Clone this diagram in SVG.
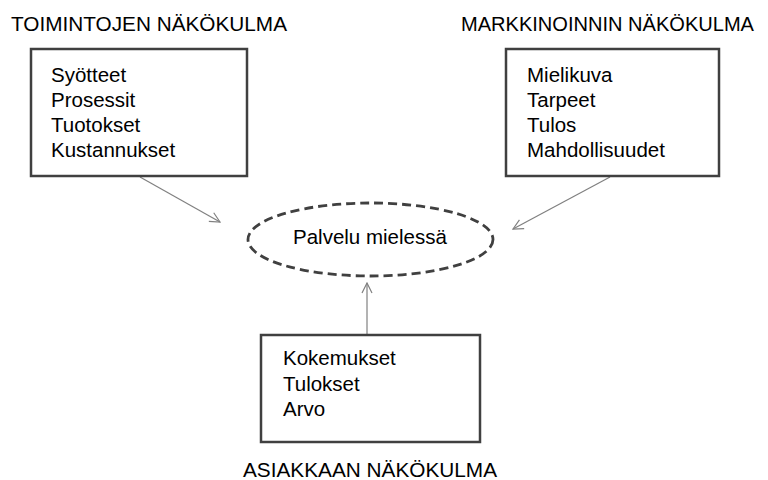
<svg xmlns="http://www.w3.org/2000/svg" width="768" height="480" viewBox="0 0 768 480">
  <style>
    .title { font-family: "Liberation Sans", Arial, sans-serif; font-size: 21px; fill: #000; }
    .item { font-family: "Liberation Sans", Arial, sans-serif; font-size: 20.5px; fill: #000; }
    .box { fill: #fff; stroke: #404040; stroke-width: 2.5; }
    .oval { fill: none; stroke: #404040; stroke-width: 2.8; stroke-dasharray: 9 5; }
    .link { fill: none; stroke: #808080; stroke-width: 1.2; marker-end: url(#open); }
  </style>
  <defs>
    <marker id="open" viewBox="0 0 12 12" refX="11" refY="6" markerWidth="12" markerHeight="12" markerUnits="userSpaceOnUse" orient="auto">
      <path d="M1,1 L11,6 L1,11" fill="none" stroke="#808080" stroke-width="1.2"/>
    </marker>
  </defs>
  <rect width="768" height="480" fill="#fff"/>

  <g id="connectors">
    <line class="link" x1="140" y1="177" x2="220" y2="222"/>
    <line class="link" x1="610" y1="177" x2="513" y2="229"/>
    <line class="link" x1="367" y1="335" x2="367" y2="283"/>
  </g>

  <g id="toiminnot">
    <text class="title" x="11" y="31" textLength="276" lengthAdjust="spacingAndGlyphs">TOIMINTOJEN NÄKÖKULMA</text>
    <rect class="box" x="31" y="49" width="216" height="127"/>
    <text class="item" x="51" y="82">Syötteet</text>
    <text class="item" x="51" y="107">Prosessit</text>
    <text class="item" x="51" y="132">Tuotokset</text>
    <text class="item" x="51" y="157">Kustannukset</text>
  </g>

  <g id="markkinointi">
    <text class="title" x="461" y="31" textLength="293" lengthAdjust="spacingAndGlyphs">MARKKINOINNIN NÄKÖKULMA</text>
    <rect class="box" x="506" y="49" width="213" height="127"/>
    <text class="item" x="527" y="82">Mielikuva</text>
    <text class="item" x="527" y="107">Tarpeet</text>
    <text class="item" x="527" y="132">Tulos</text>
    <text class="item" x="527" y="157">Mahdollisuudet</text>
  </g>

  <g id="palvelu">
    <ellipse class="oval" cx="370.5" cy="239.5" rx="122.5" ry="36.5"/>
    <text class="item" x="293" y="244">Palvelu mielessä</text>
  </g>

  <g id="asiakas">
    <rect class="box" x="261" y="335" width="219" height="107"/>
    <text class="item" x="283" y="365">Kokemukset</text>
    <text class="item" x="283" y="391">Tulokset</text>
    <text class="item" x="283" y="416">Arvo</text>
    <text class="title" x="243" y="477" textLength="254" lengthAdjust="spacingAndGlyphs">ASIAKKAAN NÄKÖKULMA</text>
  </g>
</svg>
